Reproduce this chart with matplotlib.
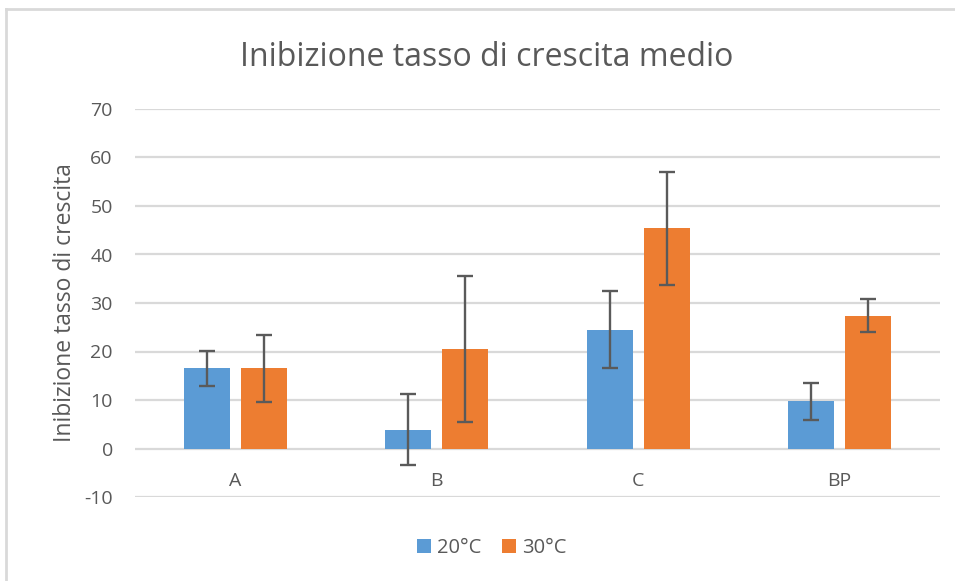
import matplotlib
matplotlib.use("Agg")
import matplotlib.pyplot as plt
import numpy as np
from matplotlib.lines import Line2D

# data
categories = ["A", "B", "C", "BP"]
series_names = ["20°C", "30°C"]
vals_20 = [16.5, 3.9, 24.5, 9.7]
err_20 = [3.7, 7.4, 7.9, 3.8]
vals_30 = [16.5, 20.5, 45.4, 27.4]
err_30 = [7.0, 15.0, 11.7, 3.4]
y_ticks = [-10, 0, 10, 20, 30, 40, 50, 60, 70]

BLUE = "#5B9BD5"
ORANGE = "#ED7D31"
TEXT = "#595959"
GRID = "#D9D9D9"

plt.rcParams["font.family"] = ["Open Sans", "DejaVu Sans"]
plt.rcParams["axes.unicode_minus"] = False

fig = plt.figure(figsize=(9.55, 5.81), dpi=100)
ax = fig.add_axes([135 / 955, 1 - 497 / 581, 805 / 955, 388 / 581])

x = np.arange(len(categories))
w = 0.229
off = 0.142
err_kw = dict(ecolor="#5A5A5A", elinewidth=1.7, capsize=6, capthick=1.7)
ax.bar(x - off, vals_20, w, color=BLUE, yerr=err_20, error_kw=err_kw, label=series_names[0], zorder=3)
ax.bar(x + off, vals_30, w, color=ORANGE, yerr=err_30, error_kw=err_kw, label=series_names[1], zorder=3)

ax.set_xlim(-0.5, len(categories) - 0.5)
ax.set_ylim(-10, 70)
ax.set_yticks(y_ticks)
ax.set_xticks([])
# category labels sit just under the zero line, like Excel does
for xi, cat in zip(x, categories):
    ax.text(xi, -6.7, cat, ha="center", va="center", color=TEXT, fontsize=14)
ax.tick_params(axis="both", length=0, colors=TEXT, labelsize=14)
ax.tick_params(axis="y", pad=16)
for s in ax.spines.values():
    s.set_visible(False)
ax.grid(axis="y", color=GRID, linewidth=1.6, zorder=0)
ax.set_axisbelow(True)

ax.set_ylabel("Inibizione tasso di crescita", color=TEXT, fontsize=16.5, labelpad=5)

fig.text(487 / 955, 1 - 57 / 581, "Inibizione tasso di crescita medio",
         ha="center", va="center", color=TEXT, fontsize=23)

fig.legend(loc="center", bbox_to_anchor=(0.515, 1 - 548 / 581), ncol=2, frameon=False,
           fontsize=14.5, labelcolor=TEXT, handlelength=0.7, handleheight=0.7,
           handletextpad=0.3, columnspacing=1.0)

# light chart border (left and top visible in the reference)
fig.add_artist(Line2D([6 / 955, 6 / 955], [0, 1 - 9 / 581], color=GRID, linewidth=2.0))
fig.add_artist(Line2D([6 / 955, 1], [1 - 9 / 581, 1 - 9 / 581], color=GRID, linewidth=2.0))

plt.savefig("out.png", dpi=100)
plt.close()
